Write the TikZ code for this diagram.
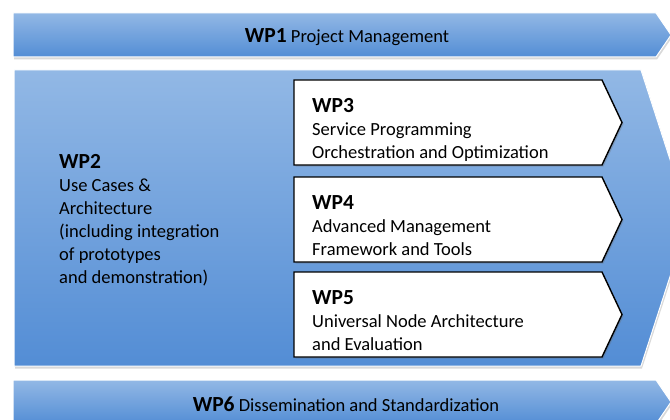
\documentclass[tikz,border=0pt]{standalone}
\usepackage{fontspec}
\setmainfont{Carlito}
\usepackage{tikz}
\usepackage{xcolor}
\usetikzlibrary{shadows}
\usetikzlibrary{calc}
\usetikzlibrary{positioning}

\definecolor{bandtop}{RGB}{146,184,229}
\definecolor{bandbot}{RGB}{83,141,213}

\newcommand{\wptitle}[1]{{\fontsize{21.5}{23}\selectfont\bfseries #1}}

\tikzset{
  band/.style={draw=white, line width=1pt, top color=bandtop, bottom color=bandbot,
    drop shadow={shadow xshift=1pt, shadow yshift=-2.5pt, opacity=0.25, fill=black!60}},
  wpbox/.style={draw=black, line width=1.4pt, fill=white,
    drop shadow={shadow xshift=1.5pt, shadow yshift=-1.5pt, opacity=0.3, fill=black!60}},
  wptext/.style={anchor=base west, align=left, inner sep=0pt,
    font=\fontsize{18.5}{23}\selectfont},
  bandtext/.style={anchor=base, inner sep=0pt, font=\fontsize{18.5}{23}\selectfont},
}

\begin{document}
\begin{tikzpicture}[x=1pt, y=-1pt]
    \path[use as bounding box] (0,0) rectangle (670,420);
    \clip (0,0) rectangle (670,420);

% top band
\path[band] (13,13) -- (656,13) -- (671,35) -- (656,57) -- (13,57) -- cycle;
\node[bandtext] (WP1) at (347,43) {\wptitle{WP1} Project Management};

% big arrow
\path[band] (14,70) -- (641,70) -- (689,218) -- (641,366) -- (14,366) -- cycle;
\node[wptext] (WP2) at (59,283) {\wptitle{WP2}\\Use Cases \&\\Architecture\\(including integration\\of prototypes\\and demonstration)};

\foreach \i/\t/\txt in {3/80/{Service Programming\\Orchestration and Optimization},
                        4/177/{Advanced Management\\Framework and Tools},
                        5/272/{Universal Node Architecture\\and Evaluation}} {
  \path[wpbox] (294,\t) -- (602,\t) -- (622,\t+42.5) -- (602,\t+85) -- (294,\t+85) -- cycle;
  \node[wptext] (WP\i) at (312,\t+78) {\wptitle{WP\i}\\\txt};
}

% bottom band
\path[band] (13,380) -- (656,380) -- (671,402) -- (656,424) -- (13,424) -- cycle;
\node[bandtext] (WP6) at (346,411) {\wptitle{WP6} Dissemination and Standardization};
\end{tikzpicture}
\end{document}
